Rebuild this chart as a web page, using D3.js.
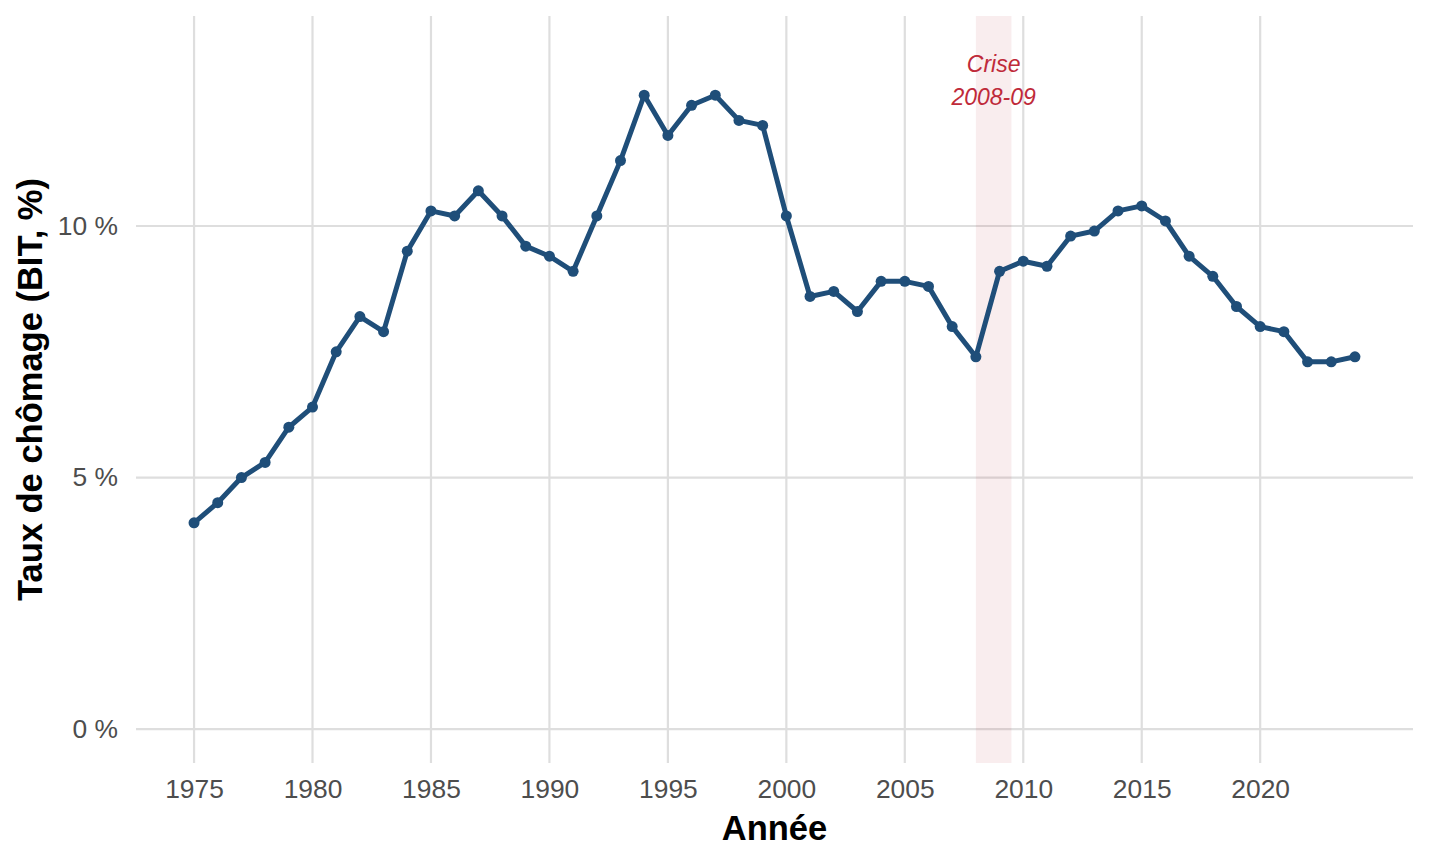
<!DOCTYPE html>
<html>
<head>
<meta charset="utf-8">
<script src="https://cdn.jsdelivr.net/npm/d3@7"></script>
<style>
  body { margin: 0; background: #fff; }
  text { font-family: "Liberation Sans", Arial, sans-serif; }
</style>
</head>
<body>
<svg id="chart" width="1440" height="864"></svg>
<script>
// taux de chomage BIT, France
var years = [1975, 1976, 1977, 1978, 1979, 1980, 1981, 1982, 1983, 1984,
             1985, 1986, 1987, 1988, 1989, 1990, 1991, 1992, 1993, 1994,
             1995, 1996, 1997, 1998, 1999, 2000, 2001, 2002, 2003, 2004,
             2005, 2006, 2007, 2008, 2009, 2010, 2011, 2012, 2013, 2014,
             2015, 2016, 2017, 2018, 2019, 2020, 2021, 2022, 2023, 2024];
var rates = [4.1, 4.5, 5.0, 5.3, 6.0, 6.4, 7.5, 8.2, 7.9, 9.5,
             10.3, 10.2, 10.7, 10.2, 9.6, 9.4, 9.1, 10.2, 11.3, 12.6,
             11.8, 12.4, 12.6, 12.1, 12.0, 10.2, 8.6, 8.7, 8.3, 8.9,
             8.9, 8.8, 8.0, 7.4, 9.1, 9.3, 9.2, 9.8, 9.9, 10.3,
             10.4, 10.1, 9.4, 9.0, 8.4, 8.0, 7.9, 7.3, 7.3, 7.4];
var xTicks = [1975, 1980, 1985, 1990, 1995, 2000, 2005, 2010, 2015, 2020];
var yTicks = [0, 5, 10];
var crisis = [2008, 2009.5];
var crisisLabel = ["Crise", "2008-09"];

var svg = d3.select("#chart"),
    margin = {top: 16, right: 27, bottom: 101, left: 136},
    width = +svg.attr("width") - margin.left - margin.right,
    height = +svg.attr("height") - margin.top - margin.bottom;

var data = years.map(function(d, i) { return {year: d, rate: rates[i]}; });

// ggplot-like 5% expansion
var xPad = (d3.max(years) - d3.min(years)) * 0.05,
    yMax = 13.5,
    yPad = yMax * 0.05;

var x = d3.scaleLinear()
    .domain([d3.min(years) - xPad, d3.max(years) + xPad])
    .range([0, width]);
var y = d3.scaleLinear()
    .domain([0 - yPad, yMax + yPad])
    .range([height, 0]);

var g = svg.append("g")
    .attr("transform", "translate(" + margin.left + "," + margin.top + ")");

// grid
g.append("g").selectAll("line.hgrid")
  .data(yTicks).enter().append("line")
    .attr("x1", 0).attr("x2", width)
    .attr("y1", function(d) { return y(d); })
    .attr("y2", function(d) { return y(d); })
    .attr("stroke", "#dedede").attr("stroke-width", 2.2);
g.append("g").selectAll("line.vgrid")
  .data(xTicks).enter().append("line")
    .attr("x1", function(d) { return x(d); })
    .attr("x2", function(d) { return x(d); })
    .attr("y1", 0).attr("y2", height)
    .attr("stroke", "#dedede").attr("stroke-width", 2.2);

// crisis band
g.append("rect")
    .attr("x", x(crisis[0]))
    .attr("width", x(crisis[1]) - x(crisis[0]))
    .attr("y", 0)
    .attr("height", height)
    .attr("fill", "#b2182b")
    .attr("fill-opacity", 0.08);

g.append("text")
    .attr("x", x((crisis[0] + crisis[1]) / 2))
    .attr("y", y(yMax))
    .attr("text-anchor", "middle")
    .attr("fill", "#bf2a3a")
    .style("font-size", "23px")
    .style("font-style", "italic")
  .selectAll("tspan")
  .data(crisisLabel).enter().append("tspan")
    .attr("x", x((crisis[0] + crisis[1]) / 2))
    .attr("dy", function(d, i) { return i === 0 ? "0.95em" : "1.43em"; })
    .text(function(d) { return d; });

// line + points
var line = d3.line()
    .x(function(d) { return x(d.year); })
    .y(function(d) { return y(d.rate); });

g.append("path")
    .datum(data)
    .attr("fill", "none")
    .attr("stroke", "#1f4e79")
    .attr("stroke-width", 5)
    .attr("stroke-linejoin", "round")
    .attr("d", line);

g.selectAll("circle.pt")
  .data(data).enter().append("circle")
    .attr("cx", function(d) { return x(d.year); })
    .attr("cy", function(d) { return y(d.rate); })
    .attr("r", 5.5)
    .attr("fill", "#1f4e79");

// axes
var xAxis = g.append("g")
    .attr("transform", "translate(0," + height + ")")
    .call(d3.axisBottom(x).tickValues(xTicks).tickFormat(d3.format("d")).tickSize(0).tickPadding(16));
var yAxis = g.append("g")
    .call(d3.axisLeft(y).tickValues(yTicks).tickFormat(function(d) { return d + " %"; }).tickSize(0).tickPadding(18));

[xAxis, yAxis].forEach(function(a) {
  a.select(".domain").remove();
  a.selectAll("text")
    .attr("fill", "#4d4d4d")
    .style("font-size", "26.4px")
    .style("font-family", "'Liberation Sans', Arial, sans-serif");
});

// titles
svg.append("text")
    .attr("x", margin.left + width / 2)
    .attr("y", 840)
    .attr("text-anchor", "middle")
    .style("font-size", "34.5px")
    .style("font-weight", "bold")
    .text("Année");

svg.append("text")
    .attr("transform", "translate(42," + (margin.top + height / 2) + ") rotate(-90)")
    .attr("text-anchor", "middle")
    .style("font-size", "34.5px")
    .style("font-weight", "bold")
    .text("Taux de chômage (BIT, %)");
</script>
</body>
</html>
